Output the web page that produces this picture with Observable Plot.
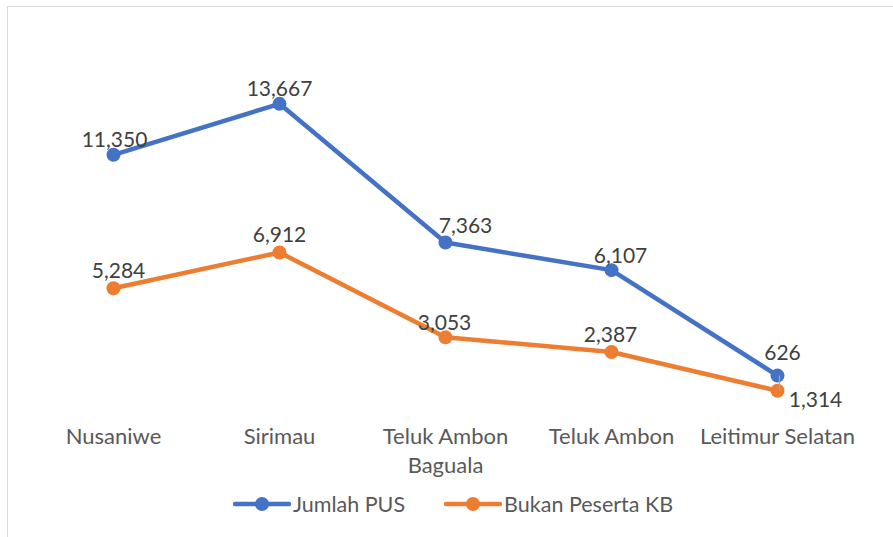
<!DOCTYPE html>
<html>
<head>
<meta charset="utf-8">
<script src="https://cdn.jsdelivr.net/npm/d3@7"></script>
<script src="https://cdn.jsdelivr.net/npm/@observablehq/plot@0.6"></script>
<style>
  html, body { margin: 0; padding: 0; background: #fff; }
  body { width: 893px; height: 537px; position: relative; overflow: hidden; font-family: Lato, "Open Sans", sans-serif; }
  #frame { position: absolute; left: 7px; top: 6px; width: 900px; height: 540px; border: 1.5px solid #d9d9d9; box-sizing: border-box; }
  #chart { position: absolute; left: 0; top: 0; }
  #legend { position: absolute; left: 233px; top: 491px; display: flex; align-items: center; font-size: 21.5px; color: #595959; }
  .item { display: flex; align-items: center; margin-right: 39px; }
  .item svg { margin-right: 2px; }
</style>
</head>
<body>
<div id="frame"></div>
<div id="chart"></div>
<div id="legend"></div>
<script>
const categories = ["Nusaniwe", "Sirimau", "Teluk Ambon Baguala", "Teluk Ambon", "Leitimur Selatan"];
const jumlahPUS = [11350, 13667, 7363, 6107, 1314];
const bukanPesertaKB = [5284, 6912, 3053, 2387, 626];
const seriesNames = ["Jumlah PUS", "Bukan Peserta KB"];
const seriesColors = ["#4472C4", "#ED7D31"];

// label nudges (style only): [dx, dy] per point, per series
const labelOffsets = [
  [[1, -15], [0, -15], [20, -16], [9, -14], [38, 25]],
  [[5, -17], [0, -17], [-1, -14], [-1, -17], [5, -37]]
];

const seriesValues = [jumlahPUS, bukanPesertaKB];
const rows = [];
seriesValues.forEach((vals, s) => vals.forEach((v, i) => rows.push({series: seriesNames[s], s, i, category: categories[i], value: v})));

const fmt = d3.format(",");
const marks = [];
seriesNames.forEach((name, s) => {
  const data = rows.filter(r => r.s === s);
  marks.push(Plot.line(data, {x: "category", y: "value", stroke: seriesColors[s], strokeWidth: 4.5, strokeLinejoin: "round"}));
  marks.push(Plot.dot(data, {x: "category", y: "value", fill: seriesColors[s], r: 7, stroke: "none"}));
});
// leader line for the moved label
marks.push(Plot.link([{}], {
  x1: () => categories[4], x2: () => categories[4],
  y1: () => jumlahPUS[4], y2: () => bukanPesertaKB[4],
  dx: 2, stroke: "#a6a6a6", strokeWidth: 1.3
}));
rows.forEach(r => {
  const [dx, dy] = labelOffsets[r.s][r.i];
  marks.push(Plot.text([r], {x: "category", y: "value", text: d => fmt(d.value), dx, dy, fontSize: 21, fill: "#404040"}));
});
marks.push(Plot.axisX({
  tickSize: 0, tickPadding: 19, fontSize: 22, fill: "#595959", lineHeight: 1.32,
  tickFormat: d => d === "Teluk Ambon Baguala" ? "Teluk Ambon\nBaguala" : d
}));

const chart = Plot.plot({
  width: 893,
  height: 490,
  marginTop: 52,
  marginBottom: 86,
  marginLeft: 28,
  marginRight: 31,
  style: {fontFamily: "Lato, 'Open Sans', sans-serif", background: "transparent", overflow: "visible"},
  x: {type: "point", domain: categories, padding: 0.5, label: null},
  y: {domain: [0, 16000], axis: null},
  marks
});
document.getElementById("chart").appendChild(chart);

const legend = document.getElementById("legend");
seriesNames.forEach((name, s) => {
  const item = document.createElement("div");
  item.className = "item";
  item.innerHTML = `<svg width="58" height="16"><line x1="2" y1="8" x2="56" y2="8" stroke="${seriesColors[s]}" stroke-width="4.5" stroke-linecap="round"/><circle cx="29" cy="8" r="7" fill="${seriesColors[s]}"/></svg><span>${name}</span>`;
  legend.appendChild(item);
});
</script>
</body>
</html>
